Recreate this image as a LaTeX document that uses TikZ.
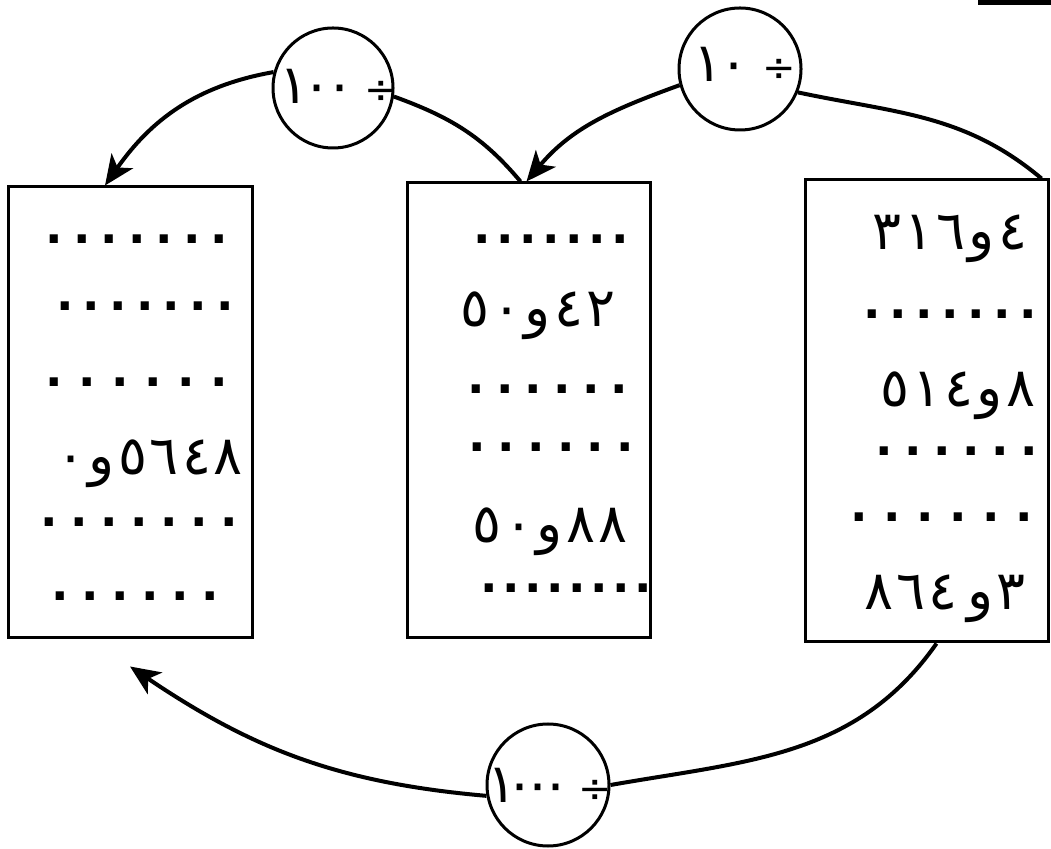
\documentclass[tikz,border=0pt]{standalone}
\usepackage{fontspec}
\newfontfamily\arabicfont[Script=Arabic]{DejaVu Sans}
\usetikzlibrary{arrows.meta}
\newcount\mydotcnt
\newcommand\dotrow[2]{\mydotcnt=0 \loop\makebox[#2]{.}\advance\mydotcnt by 1 \ifnum\mydotcnt<#1\repeat}
\makeatletter
\newcommand\digsk[2]{\@tfor\dg:=#2\do{\hbox{\dg}\kern#1}\unkern}
\newcommand\digs[1]{\digsk{3pt}{#1}}
\makeatother
\newcommand\divsym{{\fontsize{40}{40}\selectfont ÷}}
\begin{document}
\begin{tikzpicture}[x=1pt,y=1pt,
  box/.style={draw, line width=3pt, rectangle, inner sep=0pt},
  opcirc/.style={draw, circle, line width=3pt, inner sep=0pt, minimum size=120pt},
  optxt/.style={font=\arabicfont\fontsize{54}{54}\selectfont, inner sep=0pt},
  conn/.style={line width=4pt},
  arr/.style={conn, -{Stealth[length=30pt,width=26pt,inset=8pt]}},
  numtxt/.style={font=\arabicfont\fontsize{54}{56}\selectfont, inner sep=0pt, anchor=base},
  dotstxt/.style={font=\arabicfont\bfseries\fontsize{46}{46}\selectfont, inner sep=0pt,
     anchor=base, text height=10pt, text depth=0pt}]
\useasboundingbox (0,0) rectangle (1051,848);

% boxes
\node[box, minimum width=244pt, minimum height=451pt] (L) at (130,435.5) {};
\node[box, minimum width=243pt, minimum height=455pt] (M) at (528.5,437.5) {};
\node[box, minimum width=243pt, minimum height=462pt] (R) at (926.5,437) {};

% circles
\node[opcirc, minimum size=120pt] (c100) at (333,760) {};
\node[opcirc, minimum size=122pt] (c10) at (740,779) {};
\node[opcirc, minimum size=122pt] (c1000) at (548,63) {};
\node[optxt] (t100) at (339,762) {\digsk{-6pt}{١٠٠}\kern10pt\divsym};
\node[optxt] (t10) at (745,784) {\digsk{-3pt}{١٠}\kern14pt\divsym};
\node[optxt] (t1000) at (550,63) {\digsk{-11pt}{١٠٠٠}\kern8pt\divsym};

% left box contents
\node[dotstxt] (l1) at (137,604) {\dotrow{7}{27.5pt}};
\node[dotstxt] (l2) at (145,537) {\dotrow{7}{26.7pt}};
\node[dotstxt] (l3) at (137,461) {\dotrow{6}{33pt}};
\node[numtxt] (l4) at (150,373) {\digs{٠و٥٦٤٨}};
\node[dotstxt] (l5) at (139,321) {\dotrow{7}{30pt}};
\node[dotstxt] (l6) at (135,247) {\dotrow{6}{30pt}};

% middle box contents
\node[dotstxt] (m1) at (551,604) {\dotrow{7}{23pt}};
\node[numtxt] (m2) at (538,521) {\digs{٥٠و٤٢}};
\node[dotstxt] (m3) at (548,454) {\dotrow{6}{28.6pt}};
\node[dotstxt] (m4) at (551,396) {\dotrow{6}{29.6pt}};
\node[numtxt] (m5) at (550,305) {\digs{٥٠و٨٨}};
\node[dotstxt] (m6) at (566,255) {\dotrow{8}{22pt}};

% right box contents
\node[numtxt] (r1) at (950,598) {\digs{٣١٦و٤}};
\node[dotstxt] (r2) at (950,529) {\dotrow{7}{26pt}};
\node[numtxt] (r3) at (958,441) {\digs{٥١٤و٨}};
\node[dotstxt] (r4) at (957,392) {\dotrow{6}{29pt}};
\node[dotstxt] (r5) at (942,326) {\dotrow{6}{33pt}};
\node[numtxt] (r6) at (945,238) {\digs{٨٦٤}\kern10pt\digs{و٣}};

% connectors
\draw[conn] ([xshift=-8pt]R.north east) to[out=140,in=-12] (c10.-22);
\draw[arr] (c10.195) to[out=200,in=50] ([xshift=-2pt]M.north);
\draw[conn] ([xshift=-8pt]M.north) to[out=130,in=-20] (c100.-8);
\draw[arr] (c100.165) to[out=190,in=55] ([xshift=-25pt]L.north);
\draw[conn] ([xshift=10pt]R.south) to[out=-125,in=10] (c1000.east);
\coordinate (ltip) at ([yshift=-27pt]L.south);
\draw[arr] (c1000.190) to[out=175,in=-34] (ltip);

% scan mark at top right
\draw[line width=5pt] (978,845) -- (1051,845);
\end{tikzpicture}
\end{document}
